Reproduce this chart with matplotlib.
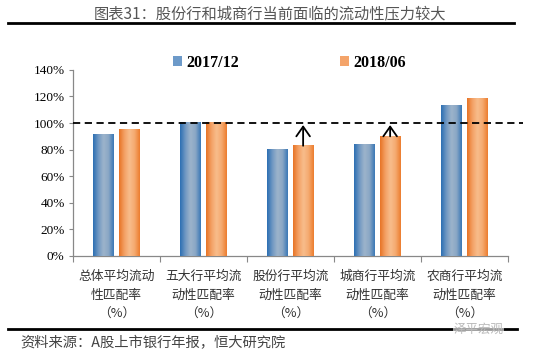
import matplotlib
matplotlib.use("Agg")
import matplotlib.pyplot as plt
import numpy as np
from matplotlib.colors import LinearSegmentedColormap
from matplotlib.lines import Line2D
from matplotlib.patches import Patch

categories = [
    "总体平均流动\n性匹配率\n（%）",
    "五大行平均流\n动性匹配率\n（%）",
    "股份行平均流\n动性匹配率\n（%）",
    "城商行平均流\n动性匹配率\n（%）",
    "农商行平均流\n动性匹配率\n（%）",
]
series_names = ["2017/12", "2018/06"]
values_2017 = [0.917, 1.007, 0.802, 0.842, 1.133]
values_2018 = [0.953, 1.007, 0.829, 0.900, 1.183]
arrow_cats = [2, 3]  # categories where the 2018 bar gets an arrow up to 100%
yticks = [0, 0.2, 0.4, 0.6, 0.8, 1.0, 1.2, 1.4]

CJK = ["Noto Sans CJK SC", "DejaVu Sans"]
SERIF = ["Liberation Serif", "Noto Sans CJK SC"]

blue_cmap = LinearSegmentedColormap.from_list(
    "blue", ["#2c6fb3", "#6f97c2", "#9db4cb", "#8aa7c5", "#3a78b6"])
orange_cmap = LinearSegmentedColormap.from_list(
    "orange", ["#e87426", "#f3a064", "#f8bd8c", "#f5aa70", "#ec7d2f"])

fig = plt.figure(figsize=(5.5, 3.53), dpi=100)
ax = fig.add_axes([0.1327, 0.275, 0.791, 0.527])

x = np.arange(len(categories))
width = 0.24
offset = 0.145
b1 = ax.bar(x - offset, values_2017, width, color="#5b8ec4", zorder=2)
b2 = ax.bar(x + offset, values_2018, width, color="#f29b5a", zorder=2)

# horizontal gradient fill on each bar
grad = np.linspace(0, 1, 64).reshape(1, -1)
for bars, cmap in ((b1, blue_cmap), (b2, orange_cmap)):
    for p in bars:
        x0, w, h = p.get_x(), p.get_width(), p.get_height()
        ax.imshow(grad, extent=[x0, x0 + w, 0, h], aspect="auto",
                  cmap=cmap, zorder=3, interpolation="bicubic")

ax.set_xlim(-0.5, len(categories) - 0.5)
ax.set_ylim(0, 1.4)

# dashed 100% reference line, runs a bit past the plot area
ax.add_line(Line2D([0, 1.035], [1.0, 1.0], transform=ax.get_yaxis_transform(),
                   color="black", linestyle=(0, (4, 2.5)), linewidth=1.3,
                   clip_on=False, zorder=4))

for i in arrow_cats:
    ax.annotate("", xy=(x[i] + offset, 0.985), xytext=(x[i] + offset, values_2018[i]),
                arrowprops=dict(arrowstyle="->,head_length=0.5,head_width=0.35",
                                color="black", lw=1.3,
                                mutation_scale=14, shrinkA=0, shrinkB=0),
                zorder=5)

ax.set_yticks(yticks)
ax.set_yticklabels([f"{int(round(v * 100))}%" for v in yticks],
                   family=SERIF, fontsize=9.5)
ax.set_xticks(np.arange(len(categories) + 1) - 0.5)
ax.set_xticklabels([])
ax.set_xticks(x, minor=True)
ax.set_xticklabels(categories, minor=True, family=CJK, fontsize=9.2,
                   color="#333333", linespacing=1.6)
ax.tick_params(axis="x", which="minor", length=0, pad=10)
ax.tick_params(axis="x", which="major", length=4, color="#888888")
ax.tick_params(axis="y", length=3, color="#888888", pad=3)

for side in ("top", "right"):
    ax.spines[side].set_visible(False)
for side in ("left", "bottom"):
    ax.spines[side].set_color("#888888")
    ax.spines[side].set_linewidth(0.9)

handles = [Patch(facecolor="#6d9ac9", edgecolor="none"),
           Patch(facecolor="#f4a46a", edgecolor="none")]
fig.legend(handles, series_names, loc="center", bbox_to_anchor=(0.527, 0.822),
           ncol=2, frameon=False, handlelength=0.55, handleheight=0.55,
           handletextpad=0.3, columnspacing=6.3,
           prop=dict(family="Liberation Serif", weight="bold", size=11.5))

fig.text(0.49, 0.961, "图表31：股份行和城商行当前面临的流动性压力较大",
         ha="center", va="center", family=CJK, fontsize=11, color="#555555")
fig.add_artist(Line2D([0.015, 0.935], [0.934, 0.934], color="black", linewidth=2.0))
fig.add_artist(Line2D([0.015, 0.94], [0.068, 0.068], color="black", linewidth=2.0))
fig.text(0.036, 0.028, "资料来源：A股上市银行年报，恒大研究院", ha="left", va="center",
         family=CJK, fontsize=10.3, color="#444444", style="italic")
fig.text(0.87, 0.068, "泽平宏观", ha="center", va="center", family=CJK,
         fontsize=9, color="#bbbbbb",
         bbox=dict(facecolor="white", edgecolor="none", pad=0.5, alpha=0.6))

fig.savefig("out.png", dpi=100)
